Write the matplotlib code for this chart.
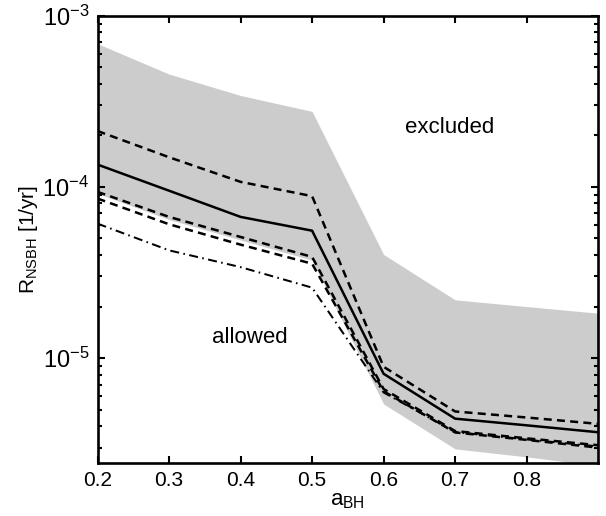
import matplotlib
matplotlib.use("Agg")
import matplotlib.pyplot as plt
import numpy as np

plt.rcParams['font.family'] = ['Liberation Sans', 'DejaVu Sans']
plt.rcParams['mathtext.fontset'] = 'custom'
plt.rcParams['mathtext.rm'] = 'Liberation Sans'
plt.rcParams['mathtext.it'] = 'Liberation Sans'
plt.rcParams['mathtext.default'] = 'regular'

a_bh = [0.2, 0.3, 0.4, 0.5, 0.6, 0.7, 0.8, 0.9]
band_upper = [6.86e-4, 4.56e-4, 3.42e-4, 2.76e-4, 4.03e-5, 2.19e-5, 2.0e-5, 1.83e-5]
band_lower = [9.15e-5, 6.45e-5, 4.9e-5, 3.73e-5, 5.4e-6, 2.95e-6, 2.65e-6, 2.35e-6]
rate_median = [1.35e-4, 9.5e-5, 6.68e-5, 5.55e-5, 8.1e-6, 4.43e-6, 4.05e-6, 3.69e-6]
rate_dash_hi = [2.12e-4, 1.49e-4, 1.07e-4, 8.83e-5, 8.9e-6, 4.88e-6, 4.5e-6, 4.13e-6]
rate_dash_mid = [9.35e-5, 6.68e-5, 5.1e-5, 3.9e-5, 6.6e-6, 3.75e-6, 3.4e-6, 3.1e-6]
rate_dash_lo = [8.55e-5, 6.05e-5, 4.6e-5, 3.56e-5, 6.4e-6, 3.68e-6, 3.33e-6, 3.0e-6]
rate_dashdot = [6.1e-5, 4.26e-5, 3.4e-5, 2.58e-5, 6.3e-6, 3.7e-6, 3.35e-6, 3.05e-6]
xtick_vals = [0.2, 0.3, 0.4, 0.5, 0.6, 0.7, 0.8]

fig = plt.figure(figsize=(6.06, 5.16), dpi=100)
ax = fig.add_axes([0.161, 0.1033, 0.987 - 0.161, 0.9696 - 0.1033])

ax.fill_between(a_bh, band_lower, band_upper, color='#cccccc', linewidth=0, zorder=1)
lw = 1.8
ax.plot(a_bh, rate_dash_hi, color='k', lw=lw, dashes=(3.2, 2.1), zorder=3)
ax.plot(a_bh, rate_median, color='k', lw=lw, zorder=3)
ax.plot(a_bh, rate_dash_mid, color='k', lw=lw, dashes=(3.2, 2.1), zorder=3)
ax.plot(a_bh, rate_dash_lo, color='k', lw=lw, dashes=(3.2, 2.1), zorder=3)
ax.plot(a_bh, rate_dashdot, color='k', lw=lw*0.8, dashes=(4.5, 2.2, 0.8, 2.2), zorder=3)

ax.set_yscale('log')
ax.set_xlim(0.2, 0.9)
ax.set_ylim(2.45e-6, 1e-3)
ax.set_xticks(xtick_vals)
ax.set_xticklabels([f"{v:.1f}" for v in xtick_vals])
ax.set_yticks([1e-5, 1e-4, 1e-3])

ax.tick_params(which='both', direction='in', top=True, right=True, width=1.5)
ax.tick_params(axis='x', labelsize=15)
ax.tick_params(axis='y', labelsize=17)
ax.tick_params(which='major', length=5, pad=6)
ax.tick_params(which='minor', length=3)
for s in ax.spines.values():
    s.set_linewidth(1.9)
    s.set_zorder(5)

ax.set_xlabel(r'$a_{BH}$', fontsize=16, labelpad=0)
ax.set_ylabel(r'$R_{NSBH}$ [1/yr]', fontsize=15, labelpad=2)

ax.text(0.693, 2.23e-4, 'excluded', fontsize=16, ha='center', va='center')
ax.text(0.413, 1.32e-5, 'allowed', fontsize=16, ha='center', va='center')

fig.savefig('out.png', dpi=100)
